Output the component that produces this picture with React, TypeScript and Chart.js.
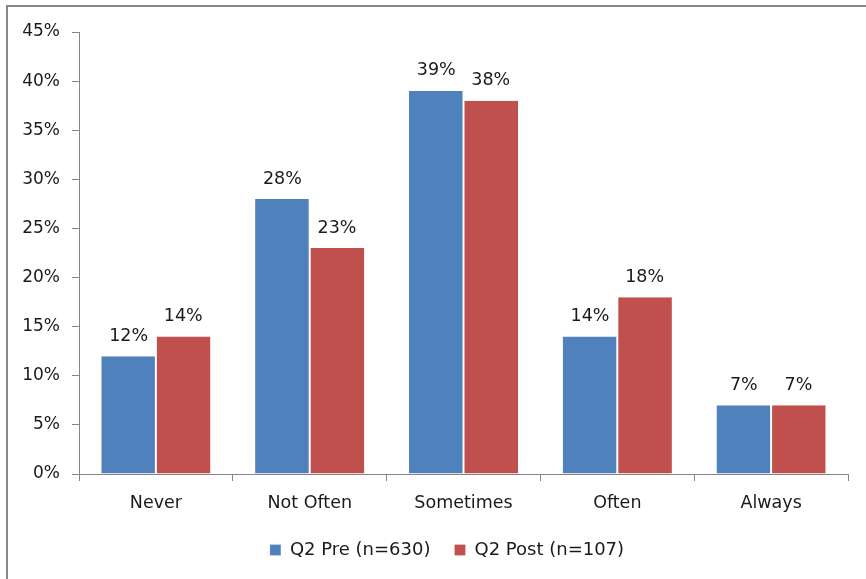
import React, { useEffect, useRef } from "react";
import { Chart, registerables } from "chart.js";

Chart.register(...registerables);

const categories = ["Never", "Not Often", "Sometimes", "Often", "Always"];
const preValues = [12, 28, 39, 14, 7];
const postValues = [14, 23, 38, 18, 7];
const seriesNames = ["Q2 Pre (n=630)", "Q2 Post (n=107)"];
const yTicks = [0, 5, 10, 15, 20, 25, 30, 35, 40, 45];

const FONT = "'DejaVu Sans', Verdana, sans-serif";
const AXIS = "#868686";

// Outer frame of the chart object
const framePlugin = {
  id: "frame",
  beforeDraw(chart: any) {
    const ctx = chart.ctx;
    ctx.save();
    ctx.fillStyle = "#fff";
    ctx.fillRect(0, 0, chart.width, chart.height);
    ctx.strokeStyle = AXIS;
    ctx.lineWidth = 2;
    ctx.strokeRect(7, 6, chart.width + 20, chart.height + 20);
    ctx.restore();
  },
};

// Nudge the legend row slightly right of the plot centre
const legendShift = {
  id: "legendShift",
  afterLayout(chart: any) {
    const lg = chart.legend;
    if (lg) {
      lg.left += 23;
      lg.right += 23;
    }
  },
};

// Percentage labels above each bar
const valueLabels = {
  id: "valueLabels",
  afterDatasetsDraw(chart: any) {
    const ctx = chart.ctx;
    ctx.save();
    ctx.font = `17.5px ${FONT}`;
    ctx.fillStyle = "#1a1a1a";
    ctx.textAlign = "center";
    ctx.textBaseline = "middle";
    chart.data.datasets.forEach((ds: any, i: number) => {
      const meta = chart.getDatasetMeta(i);
      meta.data.forEach((bar: any, j: number) => {
        ctx.fillText(`${ds.data[j]}%`, bar.x, bar.y - 20);
      });
    });
    ctx.restore();
  },
};

export default function App() {
  const ref = useRef<HTMLCanvasElement | null>(null);

  useEffect(() => {
    document.body.style.margin = "0";
    const chart = new Chart(ref.current!, {
      type: "bar",
      data: {
        labels: categories,
        datasets: [
          {
            label: seriesNames[0],
            data: preValues,
            backgroundColor: "#4F81BD",
            borderColor: "#ffffff",
            borderWidth: { left: 0, right: 1, top: 0, bottom: 0 },
            categoryPercentage: 0.71,
            barPercentage: 1,
          },
          {
            label: seriesNames[1],
            data: postValues,
            backgroundColor: "#C0504D",
            borderColor: "#ffffff",
            borderWidth: { left: 1, right: 0, top: 0, bottom: 0 },
            categoryPercentage: 0.71,
            barPercentage: 1,
          },
        ],
      },
      options: {
        animation: false,
        responsive: false,
        layout: { padding: { top: 32, left: 0, right: 18, bottom: 10 } },
        plugins: {
          legend: {
            position: "bottom",
            labels: {
              font: { family: FONT, size: 18 },
              color: "#1a1a1a",
              boxWidth: 11,
              boxHeight: 11,
              padding: 24,
              useBorderRadius: false,
            },
          },
          tooltip: { enabled: false },
        },
        scales: {
          x: {
            grid: {
              display: true,
              drawOnChartArea: false,
              drawTicks: true,
              tickLength: 7,
              color: AXIS,
              offset: true,
            },
            border: { display: true, color: AXIS, width: 1 },
            ticks: {
              font: { family: FONT, size: 17.5 },
              color: "#1a1a1a",
              padding: 12,
            },
            afterFit: (s: any) => {
              s.height = 43;
            },
          },
          y: {
            min: 0,
            max: 45,
            afterBuildTicks: (s: any) => {
              s.ticks = yTicks.map((v) => ({ value: v }));
            },
            grid: {
              display: true,
              drawOnChartArea: false,
              drawTicks: true,
              tickLength: 7,
              color: AXIS,
            },
            border: { display: true, color: AXIS, width: 1 },
            ticks: {
              font: { family: FONT, size: 17 },
              color: "#1a1a1a",
              padding: 12,
              callback: (v: any) => `${v}%`,
            },
            afterFit: (s: any) => {
              s.width = 79;
            },
          },
        },
      },
      plugins: [framePlugin, legendShift, valueLabels],
    });
    return () => chart.destroy();
  }, []);

  return (
    <div style={{ width: 866, height: 579 }}>
      <canvas ref={ref} width={866} height={579} />
    </div>
  );
}
